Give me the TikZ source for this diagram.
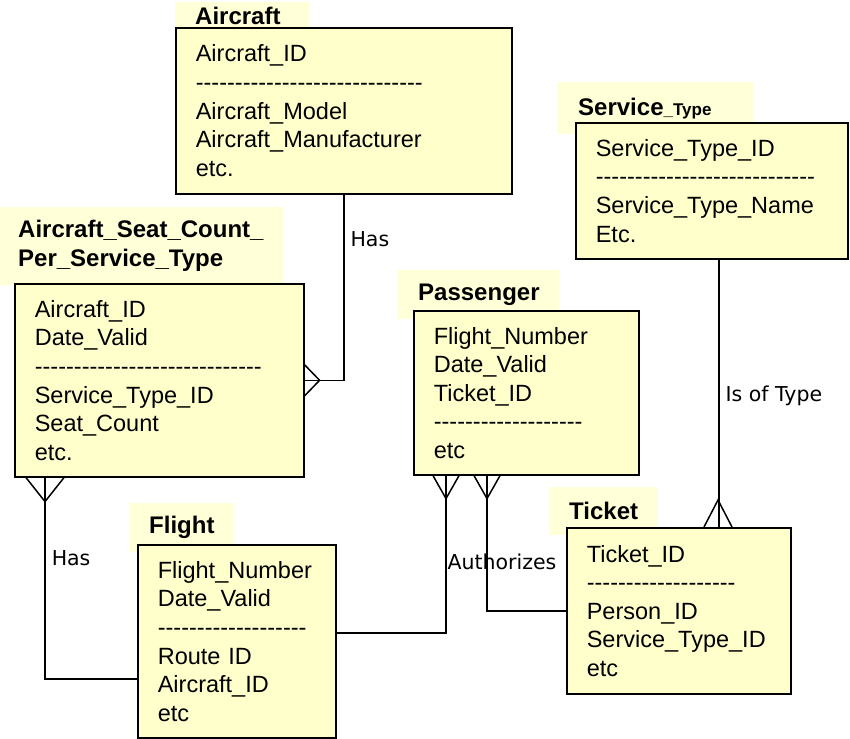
\documentclass[tikz,border=0pt]{standalone}
\usepackage{fontspec}
\newfontfamily\erfont{Liberation Sans}
\newfontfamily\relfont{DejaVu Sans}
\hyphenpenalty=10000
\exhyphenpenalty=10000
\definecolor{boxfill}{RGB}{255,255,204}
\definecolor{tabfill}{RGB}{255,255,216}

\begin{document}
\begin{tikzpicture}[
    x=1pt, y=-1pt,
    entity/.style={draw=black, line width=1.6pt, fill=boxfill, anchor=north west, align=left, inner xsep=20pt, font=\erfont\fontsize{23.5pt}{28.6pt}\selectfont},
    tab/.style={fill=tabfill, anchor=north west, align=left, inner xsep=20pt, inner ysep=0pt, font=\erfont\bfseries\fontsize{24pt}{29pt}\selectfont},
    link/.style={draw=black, line width=1.5pt},
    rel label/.style={font=\relfont\fontsize{20.5pt}{24pt}\selectfont, inner sep=0pt}
]
    \useasboundingbox (0,0) rectangle (850,738);

    % Title tabs
    \node[tab, minimum width=134pt, minimum height=28pt, text width=94pt] (aircraft title) at (175,2) {Aircraft};
    \node[tab, inner xsep=18pt, minimum width=283pt, minimum height=78pt, text width=247pt] (asc title) at (0,207) {Aircraft\_Seat\_Count\_\\Per\_Service\_Type};
    \node[tab, minimum width=195pt, minimum height=52pt, text width=155pt] (service title) at (558,82) {Service{\fontsize{17pt}{20pt}\selectfont\_Type}};
    \node[tab, minimum width=161pt, minimum height=49pt, text width=121pt] (passenger title) at (398,270) {Passenger};
    \node[tab, minimum width=109pt, minimum height=48pt, text width=69pt] (ticket title) at (549,487) {Ticket};
    \node[tab, minimum width=105pt, minimum height=49pt, text width=65pt] (flight title) at (129,503) {Flight};

    % Entities
    \node[entity, text width=296pt, minimum height=166pt] (aircraft) at (175,27) {Aircraft\_ID\\-----------------------------\\Aircraft\_Model\\Aircraft\_Manufacturer\\etc.};
    \node[entity, text width=249pt, minimum height=193pt] (asc) at (14,283) {Aircraft\_ID\\Date\_Valid\\-----------------------------\\Service\_Type\_ID\\Seat\_Count\\etc.};
    \node[entity, text width=232pt, minimum height=136pt] (service) at (575,122) {Service\_Type\_ID\\----------------------------\\Service\_Type\_Name\\Etc.};
    \node[entity, text width=185pt, minimum height=164pt] (passenger) at (413,310) {Flight\_Number\\Date\_Valid\\Ticket\_ID\\-------------------\\etc};
    \node[entity, text width=184pt, minimum height=166pt] (ticket) at (566,527) {Ticket\_ID\\-------------------\\Person\_ID\\Service\_Type\_ID\\etc};
    \node[entity, text width=158pt, minimum height=193pt] (flight) at (137,544) {Flight\_Number\\Date\_Valid\\-------------------\\Route ID\\Aircraft\_ID\\etc};

    % Relationships with crow's feet
    \draw[link] (aircraft.south) |- node[rel label, pos=0.12, anchor=west, xshift=6pt] {Has} (asc.east);
    \draw[link] (asc.east) ++(0,-15.5) -- ++(15,15.5) -- ++(-15,15.5);

    \draw[link] (asc.south west) ++(31,0) |- node[rel label, pos=0.2, anchor=west, xshift=6pt] {Has} ([yshift=-37.5pt]flight.west);
    \draw[link] (asc.south west) ++(12,0) -- ++(19,24) -- ++(19,-24);

    \draw[link] ([yshift=8.5pt]flight.east) -| ([xshift=33pt]passenger.south west);
    \draw[link] (passenger.south west) ++(20,0) -- ++(13,23) -- ++(13,-23);

    \draw[link] ([xshift=74pt]passenger.south west) |- node[rel label, pos=0.32, xshift=15pt] {Authorizes} (ticket.west);
    \draw[link] (passenger.south west) ++(61,0) -- ++(13,23) -- ++(13,-23);

    \draw[link] ([xshift=7pt]service.south) -- node[rel label, pos=0.51, anchor=west, xshift=6pt] {Is of Type} ([xshift=40pt]ticket.north);
    \draw[link] (ticket.north west) ++(138,0) -- ++(14,-27) -- ++(14,27);

\end{tikzpicture}
\end{document}
